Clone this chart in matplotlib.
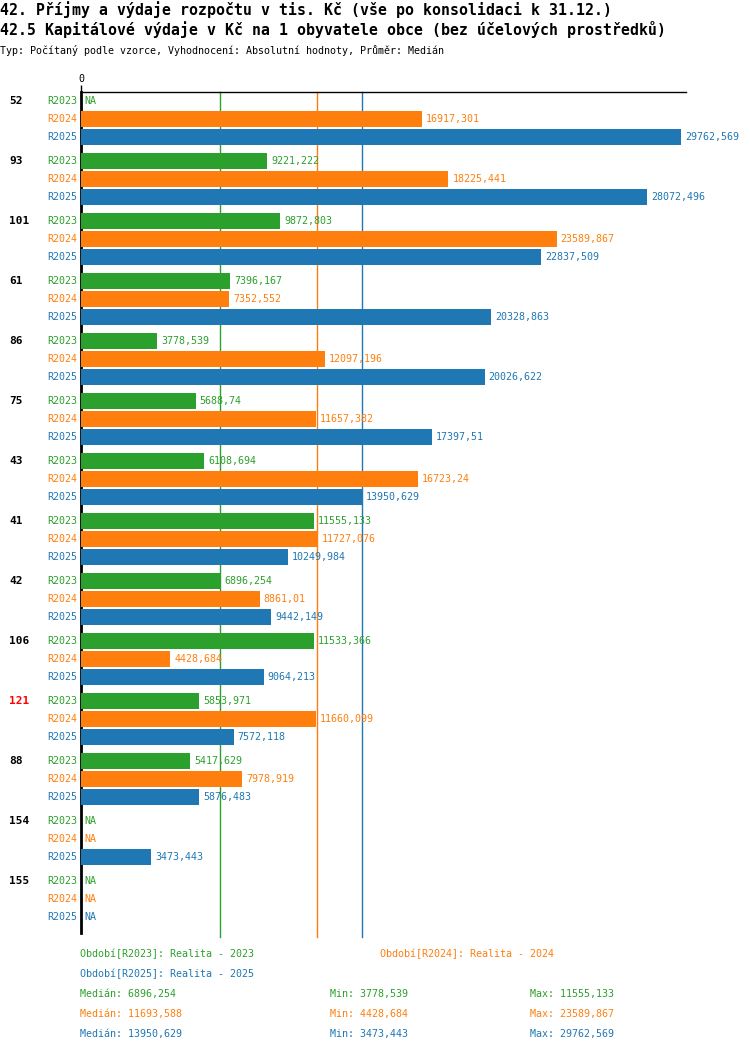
import matplotlib
matplotlib.use("Agg")
import matplotlib.pyplot as plt
import numpy as np

groups = ["52", "93", "101", "61", "86", "75", "43", "41", "42", "106", "121", "88", "154", "155"]
group_colors = ["black"] * 10 + ["red"] + ["black"] * 3
series_names = ["R2023", "R2024", "R2025"]
series_colors = ["#2ca02c", "#ff7f0e", "#1f77b4"]
r2023 = [None, 9221.222, 9872.803, 7396.167, 3778.539, 5688.74, 6108.694, 11555.133,
         6896.254, 11533.366, 5853.971, 5417.629, None, None]
r2024 = [16917.301, 18225.441, 23589.867, 7352.552, 12097.196, 11657.382, 16723.24,
         11727.076, 8861.01, 4428.684, 11660.099, 7978.919, None, None]
r2025 = [29762.569, 28072.496, 22837.509, 20328.863, 20026.622, 17397.51, 13950.629,
         10249.984, 9442.149, 9064.213, 7572.118, 5876.483, 3473.443, None]
medians = [6896.254, 11693.588, 13950.629]
mins = [3778.539, 4428.684, 3473.443]
maxs = [11555.133, 23589.867, 29762.569]
legend_labels = ["Období[R2023]: Realita - 2023", "Období[R2024]: Realita - 2024",
                 "Období[R2025]: Realita - 2025"]
title1 = "42. Příjmy a výdaje rozpočtu v tis. Kč (vše po konsolidaci k 31.12.)"
title2 = "42.5 Kapitálové výdaje v Kč na 1 obyvatele obce (bez účelových prostředků)"
subtitle = "Typ: Počítaný podle vzorce, Vyhodnocení: Absolutní hodnoty, Průměr: Medián"

W, H = 750, 1052
MONO = "DejaVu Sans Mono"


def fmt(v):
    s = f"{v:.3f}".rstrip("0").rstrip(".")
    return s.replace(".", ",")


fig = plt.figure(figsize=(W / 100, H / 100), dpi=100)
ax_left, ax_right, ax_top, ax_bot = 81, 686, 92, 933
ax = fig.add_axes([ax_left / W, 1 - ax_bot / H, (ax_right - ax_left) / W, (ax_bot - ax_top) / H])
xmax = 30010
ax.set_xlim(0, xmax)
ax.set_ylim(ax_bot - 101, ax_top - 101)

GROUP_PITCH, ROW_PITCH, BAR_H = 60, 18, 16
series = [r2023, r2024, r2025]
px_per_unit = (ax_right - ax_left) / xmax

for g, name in enumerate(groups):
    y0 = g * GROUP_PITCH
    fig.text(9 / W, 1 - (101 + y0) / H, name, ha="left", va="center", family=MONO,
             fontsize=8, fontweight="bold", color=group_colors[g])
    for r, vals in enumerate(series):
        y = y0 + r * ROW_PITCH
        c = series_colors[r]
        v = vals[g]
        ax.text(-4 / px_per_unit, y, series_names[r], ha="right", va="center", family=MONO,
                fontsize=7.2, color=c, clip_on=False)
        if v is None:
            ax.text(3 / px_per_unit, y, "NA", ha="left", va="center", family=MONO,
                    fontsize=7.2, color=c, clip_on=False)
        else:
            ax.barh(y, v, height=BAR_H, color=c, zorder=3)
            ax.text(v + 4 / px_per_unit, y, fmt(v), ha="left", va="center", family=MONO,
                    fontsize=7.2, color=c, clip_on=False, zorder=4)

for m, c in zip(medians, series_colors):
    ax.plot([m, m], [ax_top - 101, ax_bot - 101 + 4], color=c, lw=1, zorder=2, clip_on=False)

for s in ["right", "bottom"]:
    ax.spines[s].set_visible(False)
ax.spines["left"].set_linewidth(2)
ax.spines["top"].set_linewidth(1)
ax.xaxis.tick_top()
ax.set_xticks([0])
ax.set_xticklabels(["0"], family=MONO, fontsize=7.2)
ax.tick_params(axis="x", length=5, width=1, pad=1)
ax.set_yticks([])

fig.text(0, 1 - 10 / H, title1, ha="left", va="center", family=MONO, fontsize=10.75, fontweight="bold")
fig.text(0, 1 - 30 / H, title2, ha="left", va="center", family=MONO, fontsize=10.75, fontweight="bold")
fig.text(0, 1 - 50 / H, subtitle, ha="left", va="center", family=MONO, fontsize=7.2)

legend_pos = [(80, 954), (380, 954), (80, 974)]
for (x, y), lab, c in zip(legend_pos, legend_labels, series_colors):
    fig.text(x / W, 1 - y / H, lab, ha="left", va="center", family=MONO, fontsize=7.2, color=c)

for i, c in enumerate(series_colors):
    y = 994 + i * 20
    fig.text(80 / W, 1 - y / H, f"Medián: {fmt(medians[i])}", ha="left", va="center",
             family=MONO, fontsize=7.2, color=c)
    fig.text(330 / W, 1 - y / H, f"Min: {fmt(mins[i])}", ha="left", va="center",
             family=MONO, fontsize=7.2, color=c)
    fig.text(530 / W, 1 - y / H, f"Max: {fmt(maxs[i])}", ha="left", va="center",
             family=MONO, fontsize=7.2, color=c)

fig.savefig("out.png", dpi=100)
